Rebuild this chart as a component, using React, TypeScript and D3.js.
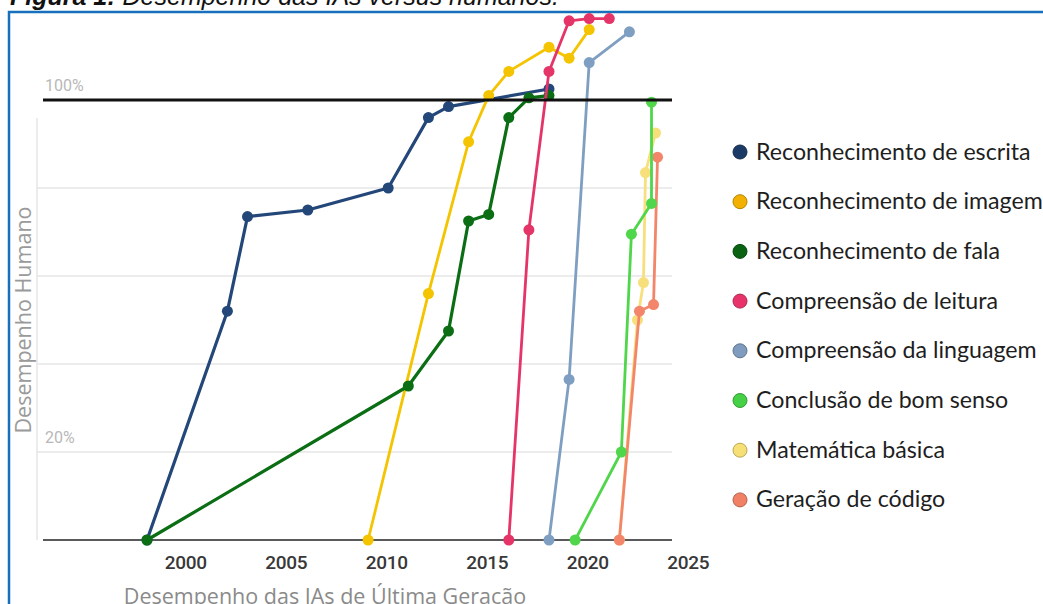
import React from "react";
import * as d3 from "d3";

const W = 1043;
const H = 604;

const seriesNames = [
  "Reconhecimento de escrita",
  "Reconhecimento de imagem",
  "Reconhecimento de fala",
  "Compreensão de leitura",
  "Compreensão da linguagem",
  "Conclusão de bom senso",
  "Matemática básica",
  "Geração de código",
];

const seriesColors = ["#24477a", "#f4c400", "#0b6e14", "#e53468", "#7f9fc2", "#4fd64a", "#f7e07c", "#f3866a"];
const legendColors = ["#1c3a66", "#f2b100", "#0a6313", "#e8336a", "#7f9bbd", "#46d046", "#f6df74", "#f08164"];

const escrita: [number, number][] = [[1998, 0], [2002, 52], [2003, 73.5], [2006, 75], [2010, 80], [2012, 96], [2013, 98.5], [2018, 102.5]];
const imagem: [number, number][] = [[2009, 0], [2012, 56], [2014, 90.5], [2015, 101], [2016, 106.5], [2018, 112], [2019, 109.5], [2020, 116]];
const fala: [number, number][] = [[1998, 0], [2011, 35], [2013, 47.5], [2014, 72.5], [2015, 74], [2016, 96], [2017, 100.5], [2018, 101]];
const leitura: [number, number][] = [[2016, 0], [2017, 70.5], [2018, 106.5], [2019, 118], [2020, 118.5], [2021, 118.5]];
const linguagem: [number, number][] = [[2018, 0], [2019, 36.5], [2020, 108.5], [2022, 115.5]];
const bomSenso: [number, number][] = [[2019.3, 0], [2021.6, 20], [2022.1, 69.5], [2023.1, 76.5], [2023.1, 99.5]];
const matematica: [number, number][] = [[2021.5, 0], [2022.4, 50], [2022.7, 58.5], [2022.8, 83.5], [2023.3, 92.5]];
const codigo: [number, number][] = [[2021.5, 0], [2022.5, 52], [2023.2, 53.5], [2023.4, 87]];

const allSeries = [escrita, imagem, fala, leitura, linguagem, bomSenso, matematica, codigo];
// draw order (back to front)
const drawOrder = [6, 7, 5, 4, 0, 1, 2, 3];

const xTicks = [2000, 2005, 2010, 2015, 2020, 2025];
const gridValues = [20, 40, 60, 80];
const yLabels = [
  { v: 100, t: "100%" },
  { v: 20, t: "20%" },
];

const titleBold = "Figura 1:";
const titleRest = " Desempenho das IAs versus humanos.";
const xTitle = "Desempenho das IAs de Última Geração";
const yTitle = "Desempenho Humano";

export default function App() {
  const x = d3.scaleLinear().domain([1998, 2025]).range([147, 689.7]);
  const y = d3.scaleLinear().domain([0, 100]).range([540, 100]);
  const line = d3
    .line<[number, number]>()
    .x((d) => x(d[0]))
    .y((d) => y(d[1]));

  const plotL = 43;
  const plotR = 672;

  return (
    <svg
      width={W}
      height={H}
      style={{ position: "absolute", left: 0, top: 0, background: "#fff" }}
      fontFamily="'Open Sans', sans-serif"
    >
      <rect x={0} y={0} width={W} height={H} fill="#fff" />
      <text x={10} y={5} fontFamily="'Liberation Sans', Arial, sans-serif" fontSize={25} fontStyle="italic" fill="#111">
        <tspan fontWeight="bold">{titleBold}</tspan>
        <tspan>{titleRest}</tspan>
      </text>
      <rect x={9} y={12} width={1060} height={620} fill="none" stroke="#1670bb" strokeWidth={2.5} />

      {/* faint y axis */}
      <line x1={37} x2={37} y1={118} y2={540} stroke="#ececec" strokeWidth={2} />
      {gridValues.map((v) => (
        <line key={v} x1={37} x2={plotR} y1={y(v)} y2={y(v)} stroke="#e6e6e6" strokeWidth={1.5} />
      ))}
      {yLabels.map((l) => (
        <text key={l.t} x={45} y={y(l.v) - 9} fontSize={16} fill="#b8b8b8" fontFamily="Roboto, sans-serif">
          {l.t}
        </text>
      ))}
      <line x1={plotL} x2={plotR} y1={y(0)} y2={y(0)} stroke="#5a5a5a" strokeWidth={2} />

      {drawOrder.map((i) => (
        <g key={i}>
          <path d={line(allSeries[i]) || ""} fill="none" stroke={seriesColors[i]} strokeWidth={i === 0 || i === 2 ? 3.2 : 2.8} strokeLinejoin="round" />
          {allSeries[i].map((d, j) => (
            <circle key={j} cx={x(d[0])} cy={y(d[1])} r={5.5} fill={seriesColors[i]} />
          ))}
        </g>
      ))}

      <line x1={plotL} x2={plotR} y1={y(100)} y2={y(100)} stroke="#111" strokeWidth={3} />

      {xTicks.map((t) => (
        <text key={t} x={x(t) - 1.5} y={569} textAnchor="middle" fontSize={19} fontWeight={500} fill="#383838" fontFamily="Roboto, sans-serif" letterSpacing={-0.3}>
          {t}
        </text>
      ))}
      <text x={325} y={604} textAnchor="middle" fontSize={21.5} fill="#8a8a8a">
        {xTitle}
      </text>
      <text transform={`translate(31,320) rotate(-90)`} textAnchor="middle" fontSize={21.5} fill="#9a9a9a">
        {yTitle}
      </text>

      {seriesNames.map((n, i) => (
        <g key={n} transform={`translate(0, ${152 + i * 49.7})`}>
          <circle cx={740} cy={0} r={7} fill={legendColors[i]} stroke={d3.color(legendColors[i])!.darker(0.8).toString()} strokeWidth={1} />
          <text x={756} y={7.5} fontSize={23.2} fill="#1e1e1e" fontFamily="Lato, sans-serif">
            {n}
          </text>
        </g>
      ))}
    </svg>
  );
}
